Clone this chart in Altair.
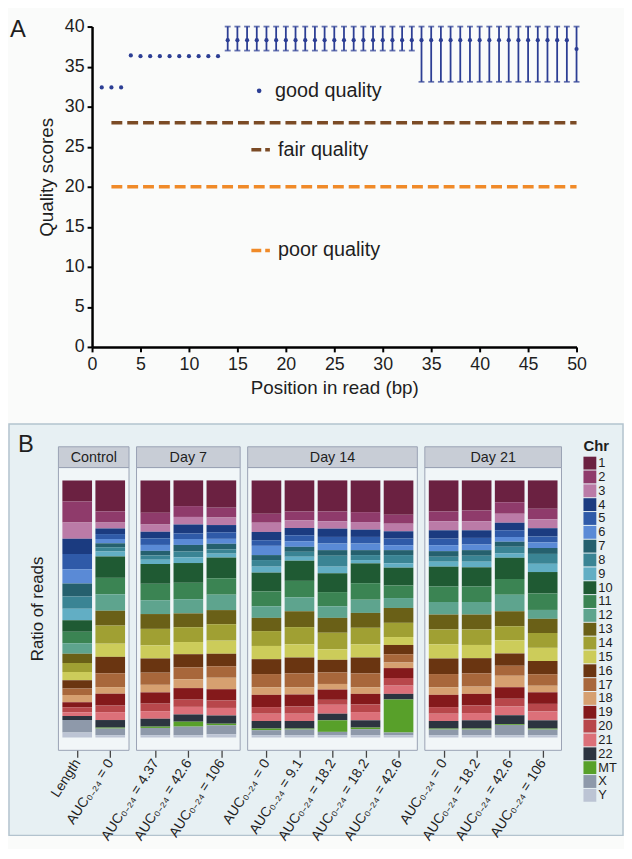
import json
import altair as alt
import pandas as pd

FONT = "Liberation Sans"
TEXT = "#1e1e1e"
BLUE = "#2c3e94"
BROWN = "#7b4b25"
ORANGE = "#f08a28"

panel_letters = ["A", "B"]

# ---------------- Panel A : per-base quality ----------------
read_position = [1, 2, 3, 4, 5, 6, 7, 8, 9, 10,
                 11, 12, 13, 14, 15, 16, 17, 18, 19, 20,
                 21, 22, 23, 24, 25, 26, 27, 28, 29, 30,
                 31, 32, 33, 34, 35, 36, 37, 38, 39, 40,
                 41, 42, 43, 44, 45, 46, 47, 48, 49, 50]
median_score = [32.4, 32.4, 32.4, 36.4, 36.3, 36.3, 36.3, 36.3, 36.3, 36.3,
                36.3, 36.3, 36.3, 38.3, 38.3, 38.3, 38.3, 38.3, 38.3, 38.3,
                38.3, 38.3, 38.3, 38.3, 38.3, 38.3, 38.3, 38.3, 38.3, 38.3,
                38.3, 38.3, 38.3, 38.3, 38.3, 38.3, 38.3, 38.3, 38.3, 38.3,
                38.3, 38.3, 38.3, 38.3, 38.3, 38.3, 38.3, 38.3, 38.3, 37.2]
lower_whisker = [None, None, None, None, None, None, None, None, None, None,
                 None, None, None, 37.0, 37.0, 37.0, 37.0, 37.0, 37.0, 37.0,
                 37.0, 37.0, 37.0, 37.0, 37.0, 37.0, 37.0, 37.0, 37.0, 37.0,
                 37.0, 37.0, 37.0, 33.1, 33.1, 33.1, 33.1, 33.1, 33.1, 33.1,
                 33.1, 33.1, 33.1, 33.1, 33.1, 33.1, 33.1, 33.1, 33.1, 33.1]
upper_whisker = [None, None, None, None, None, None, None, None, None, None,
                 None, None, None, 40.0, 40.0, 40.0, 40.0, 40.0, 40.0, 40.0,
                 40.0, 40.0, 40.0, 40.0, 40.0, 40.0, 40.0, 40.0, 40.0, 40.0,
                 40.0, 40.0, 40.0, 40.0, 40.0, 40.0, 40.0, 40.0, 40.0, 40.0,
                 40.0, 40.0, 40.0, 40.0, 40.0, 40.0, 40.0, 40.0, 40.0, 40.0]
good_label = ["good quality"]
threshold_labels = ["fair quality", "poor quality"]
threshold_scores = [28, 20]
threshold_span = [2, 50]
x_ticks_a = [0, 5, 10, 15, 20, 25, 30, 35, 40, 45, 50]
y_ticks_a = [0, 5, 10, 15, 20, 25, 30, 35, 40]

# ---------------- Panel B : ratio of reads per chromosome ----------------
chromosomes = ["1", "2", "3", "4", "5", "6", "7", "8", "9", "10", "11", "12",
               "13", "14", "15", "16", "17", "18", "19", "20", "21", "22",
               "MT", "X", "Y"]
chr_colors = ["#6b2141", "#8f3b6b", "#bb7ba7", "#1b3b80", "#2f5aa8", "#5a8ad6",
              "#25606e", "#3a8494", "#62aec4", "#1f5a33", "#3b8453", "#5ea48e",
              "#6a6017", "#a0a033", "#cccc5a", "#6a3511", "#a8673b", "#d6a070",
              "#84191b", "#b8474b", "#dc7079", "#2c3440", "#58a02a", "#8e99aa",
              "#bcc4d4"]
group_names = ["Control", "Day 7", "Day 14", "Day 21"]
bar_groups = ["Control", "Control", "Day 7", "Day 7", "Day 7",
              "Day 14", "Day 14", "Day 14", "Day 14", "Day 14",
              "Day 21", "Day 21", "Day 21", "Day 21"]
bar_labels = ["Length", "AUC₀₋₂₄ = 0",
              "AUC₀₋₂₄ = 4.37", "AUC₀₋₂₄ = 42.6", "AUC₀₋₂₄ = 106",
              "AUC₀₋₂₄ = 0", "AUC₀₋₂₄ = 9.1", "AUC₀₋₂₄ = 18.2", "AUC₀₋₂₄ = 18.2", "AUC₀₋₂₄ = 42.6",
              "AUC₀₋₂₄ = 0", "AUC₀₋₂₄ = 18.2", "AUC₀₋₂₄ = 42.6", "AUC₀₋₂₄ = 106"]
reads_length = [64, 64, 50, 46, 47, 43, 40, 37, 35, 35, 35, 32, 28, 28, 25, 25, 20, 22, 15, 15, 12, 12, 0.2, 38, 15]
reads_ctrl_0 = [94, 34, 18, 17, 15, 13, 12, 13, 15, 65, 50, 50, 45, 55, 40, 50, 42, 20, 36, 20, 24, 23, 3, 20, 7]
reads_d7_437 = [98, 36, 22, 20, 20, 18, 14, 13, 13, 60, 50, 42, 45, 50, 40, 43, 37, 23, 34, 23, 23, 24, 4, 22, 7]
reads_d7_426 = [78, 33, 23, 27, 17, 18, 20, 18, 17, 60, 50, 43, 42, 45, 37, 40, 36, 27, 35, 22, 23, 22, 15, 26, 7]
reads_d7_106 = [83, 30, 23, 22, 20, 15, 17, 13, 12, 63, 50, 47, 43, 50, 40, 38, 35, 35, 34, 23, 23, 25, 5, 27, 10]
reads_d14_0 = [101, 27, 28, 25, 17, 28, 15, 20, 18, 57, 45, 35, 40, 45, 40, 45, 40, 23, 37, 20, 22, 23, 5, 15, 7]
reads_d14_91 = [94, 27, 23, 22, 18, 17, 15, 15, 12, 61, 50, 42, 48, 52, 40, 48, 42, 22, 36, 22, 22, 23, 3, 17, 7]
reads_d14_182a = [94, 30, 22, 25, 20, 20, 17, 33, 20, 57, 43, 35, 45, 50, 32, 38, 35, 17, 31, 15, 27, 20, 35, 10, 7]
reads_d14_182b = [96, 30, 23, 22, 20, 20, 15, 15, 10, 60, 50, 40, 45, 50, 40, 48, 42, 20, 32, 23, 25, 22, 5, 18, 7]
reads_d14_426 = [104, 27, 23, 22, 20, 15, 15, 25, 13, 54, 38, 30, 45, 43, 24, 28, 25, 17, 30, 23, 25, 17, 100, 8, 7]
reads_d21_0 = [94, 30, 27, 25, 20, 18, 17, 15, 15, 60, 47, 38, 45, 45, 43, 47, 40, 23, 37, 20, 22, 23, 3, 17, 7]
reads_d21_182 = [91, 33, 27, 23, 20, 17, 17, 18, 17, 58, 47, 38, 45, 47, 40, 46, 40, 22, 35, 23, 22, 25, 3, 17, 7]
reads_d21_426 = [66, 35, 27, 23, 20, 15, 15, 20, 13, 64, 48, 50, 45, 43, 40, 37, 30, 35, 35, 23, 27, 27, 2, 31, 7]
reads_d21_106 = [86, 32, 27, 25, 18, 17, 18, 30, 25, 65, 50, 27, 43, 45, 40, 40, 35, 20, 35, 23, 27, 25, 3, 17, 7]
bar_reads = [reads_length, reads_ctrl_0, reads_d7_437, reads_d7_426, reads_d7_106,
             reads_d14_0, reads_d14_91, reads_d14_182a, reads_d14_182b, reads_d14_426,
             reads_d21_0, reads_d21_182, reads_d21_426, reads_d21_106]

# ---------------- layout (page pixels; both views start at the page margin) ----------------
OX, OY_A, OY_B = 8, 8, 421            # page origin of panel A and panel B views
W = 621                               # both views span (almost) the whole width
A_H = 392
PLOT_L, PLOT_R, PLOT_T, PLOT_B = 92, 582, 21, 345   # panel A data rectangle on the page
B_H = 416
GROUP_GAP = 0.365           # extra space between facet groups (in bar pitches)
BAR_HALF = 0.449            # half bar width (in bar pitches)
FRAME_PAD = 0.569           # frame margin around the bars of a group
PX_X, PX_Y = 33.4, 260.0
FIRST_BAR_X, BAR_BASE_Y = 77, 738


def xpage(px):
    return (px - FIRST_BAR_X) / PX_X


def yv(py):
    return (BAR_BASE_Y - py) / PX_Y


Y_MAX, Y_MIN = yv(OY_B), yv(OY_B + B_H)
HEAD_TOP, HEAD_BOT, HEAD_MID, FRAME_BOT = yv(444), yv(465), yv(455), yv(751)

# ---------------- tables ----------------
df_a = pd.DataFrame({"pos": read_position, "med": median_score,
                     "lo": lower_whisker, "hi": upper_whisker,
                     "series": good_label * len(read_position)})
df_lines = pd.DataFrame([{"x": sx, "y": sc, "q": q}
                         for q, sc in zip(threshold_labels, threshold_scores)
                         for sx in threshold_span])

bar_pos = [round(i + group_names.index(g) * GROUP_GAP, 3) for i, g in enumerate(bar_groups)]
rows = []
for bi, (lab, grp, vals) in enumerate(zip(bar_labels, bar_groups, bar_reads)):
    for ci, (ch, v) in enumerate(zip(chromosomes, vals)):
        rows.append({"bar": bi, "label": lab, "group": grp, "chrom": ch,
                     "rank": ci, "reads": v, "pos": bar_pos[bi]})
df_b = pd.DataFrame(rows)
grp_rows = []
for g in group_names:
    ps = [p for p, gg in zip(bar_pos, bar_groups) if gg == g]
    grp_rows.append({"group": g, "x1": min(ps) - FRAME_PAD, "x2": max(ps) + FRAME_PAD,
                     "xc": (min(ps) + max(ps)) / 2})
df_g = pd.DataFrame(grp_rows)

# ---------------- Panel A ----------------
XS_A = alt.Scale(domain=[0, 50], range=[PLOT_L - OX, PLOT_R - OX], nice=False, zero=False)
YS_A = alt.Scale(domain=[0, 40], range=[PLOT_B - OY_A, PLOT_T - OY_A], nice=False, zero=False)
ax_common = dict(labelFontSize=18, labelColor=TEXT, titleFontSize=19, titleFontWeight="normal",
                 titleColor=TEXT, tickSize=5, tickWidth=2, tickColor="black",
                 domainColor="black", domainWidth=2.5, grid=False, labelFlush=False,
                 minExtent=0, zindex=1)
XA = alt.Axis(values=x_ticks_a, title="Position in read (bp)", labelPadding=4, titlePadding=5,
              offset=(PLOT_B - OY_A) - A_H, **ax_common)
YA = alt.Axis(values=y_ticks_a, title="Quality scores", labelPadding=3, titlePadding=8,
              titleY=173 - OY_A, offset=-(PLOT_L - OX), **ax_common)


def xa(f):
    return alt.X(f, type="quantitative", scale=XS_A, axis=XA)


def ya(f):
    return alt.Y(f, type="quantitative", scale=YS_A, axis=YA)


lines = alt.Chart(df_lines).mark_line(strokeDash=[11, 5], strokeWidth=3.5).encode(
    x=xa("x"), y=ya("y"),
    color=alt.Color("q:N", title=None,
                    scale=alt.Scale(domain=threshold_labels, range=[BROWN, ORANGE]),
                    legend=alt.Legend(orient="none", legendX=243, legendY=126,
                                      labelFontSize=20, labelColor=TEXT, labelOffset=6,
                                      symbolType="stroke", symbolSize=350,
                                      symbolStrokeWidth=3.5, symbolDash=[10, 4],
                                      rowPadding=80)))
whiskers = alt.Chart(df_a).transform_filter("isValid(datum.lo)").mark_rule(
    color=BLUE, strokeWidth=1.8).encode(x=xa("pos"), y=ya("lo"), y2="hi:Q")
caps = alt.Chart(df_a).transform_filter("isValid(datum.lo)").transform_fold(
    ["lo", "hi"], as_=["k", "v"]).mark_tick(
    orient="horizontal", size=6, thickness=1.8, color=BLUE).encode(x=xa("pos"), y=ya("v"))
points = alt.Chart(df_a).mark_circle(size=18, opacity=1).encode(
    x=xa("pos"), y=ya("med"),
    color=alt.Color("series:N", title=None,
                    scale=alt.Scale(domain=good_label, range=[BLUE]),
                    legend=alt.Legend(orient="none", legendX=243, legendY=68,
                                      labelFontSize=20, labelColor=TEXT, labelOffset=6,
                                      symbolType="circle", symbolSize=22)))
letter_a = alt.Chart(pd.DataFrame({"t": panel_letters[:1]})).mark_text(
    fontSize=24, align="center", baseline="middle", color=TEXT).encode(
    text="t:N", x=alt.value(17 - OX), y=alt.value(25 - OY_A))

panel_a = alt.layer(lines, whiskers, caps, points, letter_a).resolve_scale(
    color="independent").properties(width=W, height=A_H)

# ---------------- Panel B ----------------
XS_B = alt.Scale(domain=[xpage(OX), xpage(OX + W)], nice=False, zero=False)
YS_B = alt.Scale(domain=[Y_MIN, Y_MAX], nice=False, zero=False)
label_expr = "{}[indexof({}, datum.value)]".format(
    json.dumps(bar_labels, ensure_ascii=False), json.dumps(bar_pos))
XB = alt.Axis(values=bar_pos, labelExpr=label_expr, labelAngle=-57, labelAlign="right",
              labelBaseline="middle", labelFontSize=14, labelColor=TEXT, labelPadding=3,
              tickSize=7, tickColor="#444444", tickWidth=1.3, domain=False, grid=False,
              offset=751 - (OY_B + B_H), title=None, labelOverlap=False, labelFlush=False,
              minExtent=0, zindex=1)


def xb(f):
    return alt.X(f, type="quantitative", scale=XS_B, axis=XB)


frames = alt.Chart(df_g).mark_rect(fill="#f1f6f8", stroke="#9aa2b4", strokeWidth=1).encode(
    x=xb("x1"), x2="x2:Q",
    y=alt.Y(datum=HEAD_BOT, type="quantitative", scale=YS_B, axis=None),
    y2=alt.datum(FRAME_BOT))
headers = alt.Chart(df_g).mark_rect(fill="#c8cdd6", stroke="#9aa2b4", strokeWidth=1).encode(
    x=xb("x1"), x2="x2:Q",
    y=alt.Y(datum=HEAD_TOP, type="quantitative", scale=YS_B, axis=None),
    y2=alt.datum(HEAD_BOT))
header_text = alt.Chart(df_g).mark_text(fontSize=14.5, color=TEXT, baseline="middle").encode(
    x=xb("xc"), y=alt.Y(datum=HEAD_MID, type="quantitative", scale=YS_B, axis=None),
    text="group:N")
bars = alt.Chart(df_b).transform_stack(
    stack="reads", groupby=["bar"], offset="normalize",
    sort=[alt.SortField("rank", order="descending")], as_=["y0", "y1"]
).transform_calculate(
    xl="datum.pos - {}".format(BAR_HALF), xr="datum.pos + {}".format(BAR_HALF)
).mark_rect(strokeWidth=0).encode(
    x=xb("xl"), x2="xr:Q",
    y=alt.Y("y0:Q", scale=YS_B, axis=None), y2="y1:Q",
    color=alt.Color("chrom:N", scale=alt.Scale(domain=chromosomes, range=chr_colors),
                    legend=alt.Legend(title="Chr", orient="none", legendX=589 - OX, legendY=15,
                                      titleFontSize=15, titleFontWeight="bold", titleColor=TEXT,
                                      titlePadding=3, labelFontSize=13, labelColor=TEXT,
                                      labelOffset=2, symbolType="square", symbolSize=169,
                                      symbolStrokeWidth=0, rowPadding=0, symbolLimit=30)))
letter_b = alt.Chart(pd.DataFrame({"t": panel_letters[1:]})).mark_text(
    fontSize=24, align="center", baseline="middle", color=TEXT).encode(
    text="t:N", x=alt.value(25 - OX), y=alt.value(442 - OY_B))
y_title_b = alt.Chart(pd.DataFrame({"t": ["Ratio of reads"]})).mark_text(
    fontSize=17, align="center", baseline="middle", angle=270, color=TEXT).encode(
    text="t:N", x=alt.value(37.5 - OX), y=alt.value(608 - OY_B))

panel_b = alt.layer(frames, headers, header_text, bars, letter_b, y_title_b).properties(
    width=W, height=B_H,
    view=alt.ViewBackground(fill="#e7f0f3", stroke="#b3c3ce", strokeWidth=1.5))

chart = alt.vconcat(panel_a, panel_b, spacing=OY_B - (OY_A + A_H)).resolve_scale(
    x="independent", y="independent", color="independent"
).properties(
    padding=0,
    background="#fafbfa"
).configure(font=FONT).configure_view(stroke="transparent")

chart.save("out.html", embed_options={"renderer": "svg", "actions": False})
